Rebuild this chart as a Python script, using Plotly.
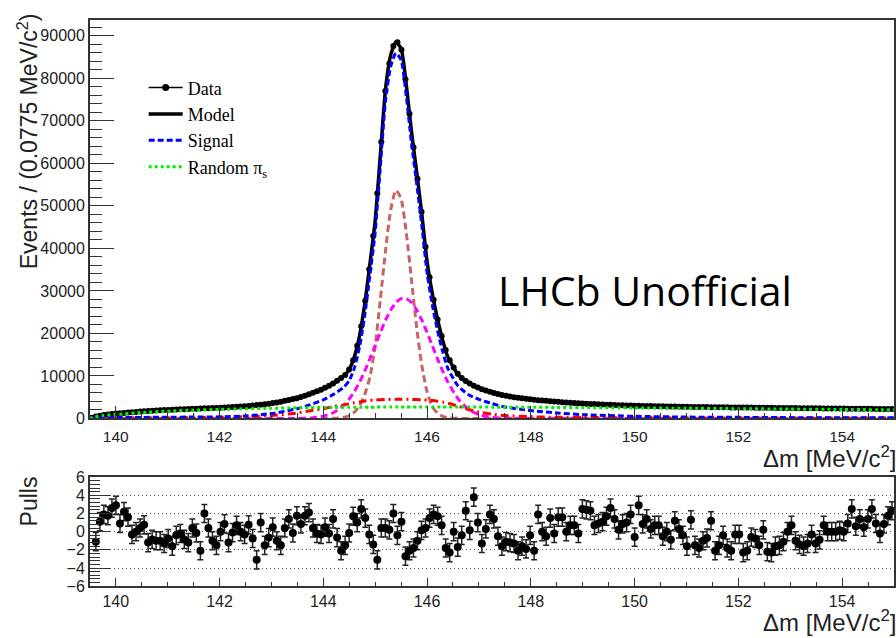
import numpy as np
import plotly.graph_objects as go

# ---------------- data ----------------
BIN_LO = 139.5
BIN_W = 0.0775
N_BINS = 200

data_counts = [
    180, 460, 650, 810, 930, 1040, 1150, 1230, 1310, 1390,
    1460, 1530, 1620, 1680, 1740, 1800, 1860, 1910, 1970, 2020,
    2060, 2110, 2150, 2190, 2230, 2280, 2310, 2350, 2390, 2420,
    2450, 2490, 2520, 2570, 2630, 2690, 2750, 2810, 2870, 2950,
    3040, 3140, 3250, 3360, 3480, 3610, 3780, 3960, 4160, 4370,
    4580, 4780, 5050, 5350, 5700, 6030, 6400, 6770, 7200, 7700,
    8230, 8850, 9520, 10250, 11500, 13700, 17100, 21700, 27700, 35100,
    42900, 53000, 65000, 77000, 83500, 87600, 88500, 86700, 79800, 71700,
    63800, 56400, 48600, 40400, 33200, 27900, 23300, 19400, 16100, 13700,
    12000, 10500, 9500, 8800, 8200, 7700, 7300, 6900, 6600, 6300,
    6000, 5750, 5520, 5320, 5150, 5000, 4860, 4730, 4610, 4500,
    4400, 4310, 4220, 4140, 4060, 3980, 3910, 3840, 3770, 3710,
    3650, 3590, 3530, 3480, 3430, 3380, 3330, 3290, 3250, 3210,
    3170, 3130, 3090, 3060, 3030, 3000, 2970, 2950, 2930, 2910,
    2890, 2870, 2850, 2830, 2810, 2790, 2770, 2750, 2730, 2720,
    2710, 2700, 2690, 2675, 2660, 2650, 2640, 2630, 2615, 2600,
    2590, 2580, 2570, 2560, 2550, 2540, 2530, 2520, 2510, 2500,
    2490, 2480, 2470, 2460, 2450, 2440, 2430, 2420, 2410, 2400,
    2390, 2380, 2370, 2360, 2350, 2340, 2330, 2320, 2310, 2300,
    2295, 2290, 2280, 2270, 2260, 2250, 2240, 2230, 2220, 2210,
]

pulls = [
    None, -1.1, 1.1, 1.9, 1.75, 2.6, 2.9, 0.9, 2.2, 1.6,
    -0.3, 0.0, 0.4, 0.75, -1.2, -0.85, -1.0, -1.0, -1.3, -0.75,
    -1.6, -0.4, -0.2, -0.85, -1.2, 0.4, -0.15, -2.1, 2.0, 0.4,
    -1.0, -1.5, 0.0, 0.85, -1.2, -0.1, 0.7, 0.0, -0.3, 0.75,
    -0.75, -3.1, 1.0, -1.5, -0.65, 0.5, -1.0, -1.5, 0.4, 1.4,
    -0.15, 1.75, 0.85, 1.75, 2.1, 0.4, -0.2, -0.3, 0.5, -0.2,
    1.4, -0.65, -2.1, -1.5, -0.15, 1.7, 1.0, 2.5, 1.5, -0.3,
    -1.4, -3.1, 0.4, 0.4, 0.2, 2.0, -0.4, 1.1, -2.7, -2.1,
    -1.8, -1.0, 0.15, 0.4, 1.5, 1.9, 1.7, 0.7, -1.8, -2.3,
    0.0, -1.7, -0.4, 2.3, 0.15, 3.8, 1.0, -1.3, 0.3, 1.9,
    1.4, -0.5, -1.6, -1.1, -1.2, -1.3, -2.1, -1.6, -1.9, -0.4,
    -2.1, 1.9, 0.0, -0.5, 1.5, -0.2, 1.6, 1.6, 0.0, 0.7,
    0.7, -0.2, 2.5, 2.4, 2.3, 0.7, 0.9, 1.1, 1.7, 2.6,
    1.4, 0.2, 0.85, 1.0, 1.9, -0.6, 2.9, 0.85, 1.4, 0.3,
    0.7, 0.7, -0.5, 0.0, -0.9, 1.2, 0.3, -0.4, -1.6, 1.3,
    -1.5, -1.8, -1.0, -0.7, 1.2, -2.1, -1.5, -0.4, -1.8, -2.1,
    -0.3, -0.3, -2.3, -2.1, -0.6, -0.75, -1.5, 0.2, -2.2, -2.3,
    -1.6, -1.5, -1.1, 0.0, 0.7, -1.0, -1.4, -1.6, -1.3, -0.3,
    -1.3, -0.9, 0.7, 0.0, 0.0, 0.0, 0.15, 0.0, 0.9, 2.5,
    0.6, 1.4, 0.5, 1.4, 2.5, 0.9, -0.2, 0.85, 1.75, 2.3,
]

curve_x = [139.5, 139.6, 139.75, 140.0, 140.5, 141.0, 141.5, 142.0, 142.5, 143.0,
           143.5, 143.75, 144.0, 144.2, 144.4, 144.5, 144.6, 144.7, 144.8, 144.9,
           145.0, 145.1, 145.2, 145.3, 145.4, 145.5, 145.6, 145.7, 145.8, 145.9,
           146.0, 146.1, 146.2, 146.3, 146.4, 146.6, 146.8, 147.0, 147.25, 147.5,
           148.0, 148.5, 149.0, 150.0, 151.0, 152.0, 153.0, 154.0, 155.0]

model_y = [0, 440, 800, 1150, 1650, 2020, 2290, 2510, 2880, 3550,
           4800, 5790, 6980, 8300, 10020, 11530, 14540, 19550, 26960, 36460,
           46470, 61970, 77480, 85480, 88580, 86990, 78490, 67490, 57990, 47990,
           36990, 29490, 23490, 18490, 14490, 10280, 8280, 7180, 6170, 5360,
           4480, 3900, 3460, 2980, 2720, 2560, 2410, 2290, 2190]

signal_y = [0, 60, 120, 200, 250, 300, 330, 380, 600, 1150,
            2300, 3250, 4400, 5700, 7400, 8900, 11900, 16900, 24300, 33800,
            43800, 59300, 74800, 82800, 85900, 84300, 75800, 64800, 55300, 45300,
            34300, 26800, 20800, 15800, 11800, 7600, 5600, 4500, 3500, 2700,
            1850, 1300, 900, 500, 330, 260, 200, 170, 150]

random_pis_y = [0, 380, 680, 950, 1400, 1720, 1960, 2130, 2280, 2400,
                2500, 2540, 2580, 2600, 2620, 2630, 2640, 2650, 2655, 2660,
                2665, 2670, 2675, 2680, 2682, 2685, 2687, 2688, 2689, 2690,
                2690, 2690, 2689, 2688, 2687, 2684, 2680, 2675, 2665, 2655,
                2630, 2600, 2560, 2480, 2390, 2300, 2210, 2120, 2040]

narrow_y = [0, 0, 0, 0, 0, 0, 0, 0, 0, 0,
            0, 0, 0, 30, 300, 700, 1500, 3000, 5700, 9800,
            17000, 28000, 39500, 49100, 53700, 51650, 43700, 32600, 21400, 12400,
            6300, 2800, 1300, 500, 200, 30, 0, 0, 0, 0,
            0, 0, 0, 0, 0, 0, 0, 0, 0]

wide_y = [0, 0, 0, 0, 0, 0, 0, 0, 0, 0,
          0, 130, 535, 1395, 3180, 4575, 6365, 8575, 11170, 14080,
          17165, 20250, 23110, 25520, 27270, 28180, 28180, 27270, 25520, 23110,
          20250, 17165, 14080, 11170, 8575, 4575, 2140, 875, 240, 50,
          0, 0, 0, 0, 0, 0, 0, 0, 0]

broad_y = [0, 40, 80, 120, 150, 180, 210, 260, 400, 700,
           1300, 1800, 2300, 2800, 3200, 3450, 3700, 3900, 4100, 4250,
           4350, 4420, 4470, 4500, 4520, 4520, 4510, 4490, 4450, 4400,
           4320, 4200, 4050, 3850, 3600, 2900, 2100, 1500, 1000, 700,
           400, 280, 220, 170, 140, 120, 110, 100, 90]

x_tickvals = [140, 142, 144, 146, 148, 150, 152, 154]

# ---------------- figure ----------------
W, H = 896, 638
bin_centers = BIN_LO + BIN_W * (np.arange(N_BINS) + 0.5)

SANS = "Liberation Sans, Arial, sans-serif"
SERIF = "Liberation Serif, Times New Roman, serif"

fig = go.Figure()

# data (main)
fig.add_trace(go.Scatter(x=bin_centers, y=data_counts, mode="markers",
                         marker=dict(color="black", size=6),
                         showlegend=False, xaxis="x", yaxis="y"))
# model
fig.add_trace(go.Scatter(x=curve_x, y=model_y, mode="lines", name="Model",
                         line=dict(color="black", width=3.5, shape="spline", smoothing=0.6),
                         legendrank=2, xaxis="x", yaxis="y"))
# components
fig.add_trace(go.Scatter(x=curve_x, y=narrow_y, mode="lines", showlegend=False,
                         line=dict(color="#c86464", width=3, dash="7px,4px", shape="spline", smoothing=0.6),
                         xaxis="x", yaxis="y"))
fig.add_trace(go.Scatter(x=curve_x, y=wide_y, mode="lines", showlegend=False,
                         line=dict(color="#ff00ff", width=3, dash="7px,4px", shape="spline", smoothing=0.6),
                         xaxis="x", yaxis="y"))
fig.add_trace(go.Scatter(x=curve_x, y=broad_y, mode="lines", showlegend=False,
                         line=dict(color="#ff0000", width=3, dash="8px,4px,2px,4px", shape="spline", smoothing=0.6),
                         xaxis="x", yaxis="y"))
# signal
fig.add_trace(go.Scatter(x=curve_x, y=signal_y, mode="lines", name="Signal",
                         line=dict(color="#0000ff", width=3, dash="6px,3px", shape="spline", smoothing=0.6),
                         legendrank=3, xaxis="x", yaxis="y"))
# random pi_s background
fig.add_trace(go.Scatter(x=curve_x, y=random_pis_y, mode="lines", name="Random π<sub>s</sub>",
                         line=dict(color="#00ee00", width=3, dash="dot", shape="spline", smoothing=0.6),
                         legendrank=4, xaxis="x", yaxis="y"))
# legend entry for data
fig.add_trace(go.Scatter(x=[None], y=[None], mode="lines+markers", name="Data",
                         line=dict(color="black", width=1.5),
                         marker=dict(color="black", size=7),
                         legendrank=1, xaxis="x", yaxis="y"))

# pulls
fig.add_trace(go.Scatter(x=bin_centers, y=pulls, mode="markers",
                         marker=dict(color="black", size=8),
                         error_y=dict(type="constant", value=1, color="#222",
                                      thickness=1.5, width=3),
                         showlegend=False, xaxis="x2", yaxis="y2"))

x_left = 90 / W
main_bot, main_top = 1 - 421.7 / H, 1 - 12 / H
pull_bot, pull_top = 1 - 594 / H, 1 - 482 / H

axis_common = dict(showline=True, linecolor="#333", linewidth=1.5, mirror=True,
                   ticks="inside", tickcolor="#333", showgrid=False, zeroline=False)

fig.update_layout(
    width=W, height=H,
    margin=dict(l=0, r=0, t=0, b=0),
    paper_bgcolor="white", plot_bgcolor="white",
    showlegend=True,
    legend=dict(x=144 / W, y=1 - 63 / H, xanchor="left", yanchor="top",
                bgcolor="rgba(0,0,0,0)", borderwidth=0,
                font=dict(family=SERIF, size=18, color="black"),
                tracegroupgap=0, itemwidth=34),
    xaxis=dict(domain=[x_left, 1.0], anchor="y", range=[BIN_LO, BIN_LO + BIN_W * N_BINS],
               tickvals=x_tickvals, ticklen=13, tickwidth=1.2,
               minor=dict(dtick=0.5, tick0=139.5, ticklen=6, ticks="inside", tickcolor="#333"),
               tickfont=dict(family=SANS, size=15.5, color="#222"),
               ticklabelstandoff=3,
               **axis_common),
    yaxis=dict(domain=[main_bot, main_top], anchor="x", range=[0, 93800],
               dtick=10000, tick0=0, tickformat="d", ticklen=24, tickwidth=1.2,
               minor=dict(dtick=2000, ticklen=12, ticks="inside", tickcolor="#333"),
               tickfont=dict(family=SANS, size=16, color="#222"),
               **axis_common),
    xaxis2=dict(domain=[x_left, 1.0], anchor="y2", range=[BIN_LO, BIN_LO + BIN_W * N_BINS],
                tickvals=x_tickvals, ticklen=8, tickwidth=1.2,
                minor=dict(dtick=0.5, tick0=139.5, ticklen=4, ticks="inside", tickcolor="#333"),
                tickfont=dict(family=SANS, size=16, color="#222"),
                ticklabelstandoff=0,
                **axis_common),
    yaxis2=dict(domain=[pull_bot, pull_top], anchor="x2", range=[-6, 6],
                dtick=2, tick0=-6, ticklen=20, tickwidth=1.2,
                minor=dict(dtick=0.4, tick0=-6, ticklen=10, ticks="inside", tickcolor="#333"),
                tickfont=dict(family=SANS, size=16, color="#222"),
                showline=True, linecolor="#333", linewidth=1.5, mirror=True,
                ticks="inside", tickcolor="#333", zeroline=False,
                showgrid=True, gridcolor="#555", gridwidth=1, griddash="1px,3px"),
)

fig.add_annotation(text="Events / (0.0775 MeV/c<sup>2</sup>)", xref="paper", yref="paper",
                   x=28 / W, y=1 - 137 / H, xanchor="center", yanchor="middle",
                   textangle=-90, showarrow=False,
                   font=dict(family=SANS, size=23, color="#222"))
fig.add_annotation(text="Δm [MeV/c<sup>2</sup>]", xref="paper", yref="paper",
                   x=1 + 4 / W, y=1 - 461 / H, xanchor="right", yanchor="middle",
                   showarrow=False, font=dict(family=SANS, size=24, color="#222"))
fig.add_annotation(text="Pulls", xref="paper", yref="paper",
                   x=30 / W, y=1 - 507 / H, xanchor="center", yanchor="middle",
                   textangle=-90, showarrow=False,
                   font=dict(family=SANS, size=23, color="#222"))
fig.add_annotation(text="Δm [MeV/c<sup>2</sup>]", xref="paper", yref="paper",
                   x=1 + 4 / W, y=1 - 630 / H, xanchor="right", yanchor="middle",
                   showarrow=False, font=dict(family=SANS, size=24, color="#222"))
fig.add_annotation(text="LHCb Unofficial", xref="paper", yref="paper",
                   x=646 / W, y=1 - 290 / H, xanchor="center", yanchor="middle",
                   showarrow=False, font=dict(family="Open Sans, sans-serif", size=41, color="black"))

fig.write_html("out.html")
